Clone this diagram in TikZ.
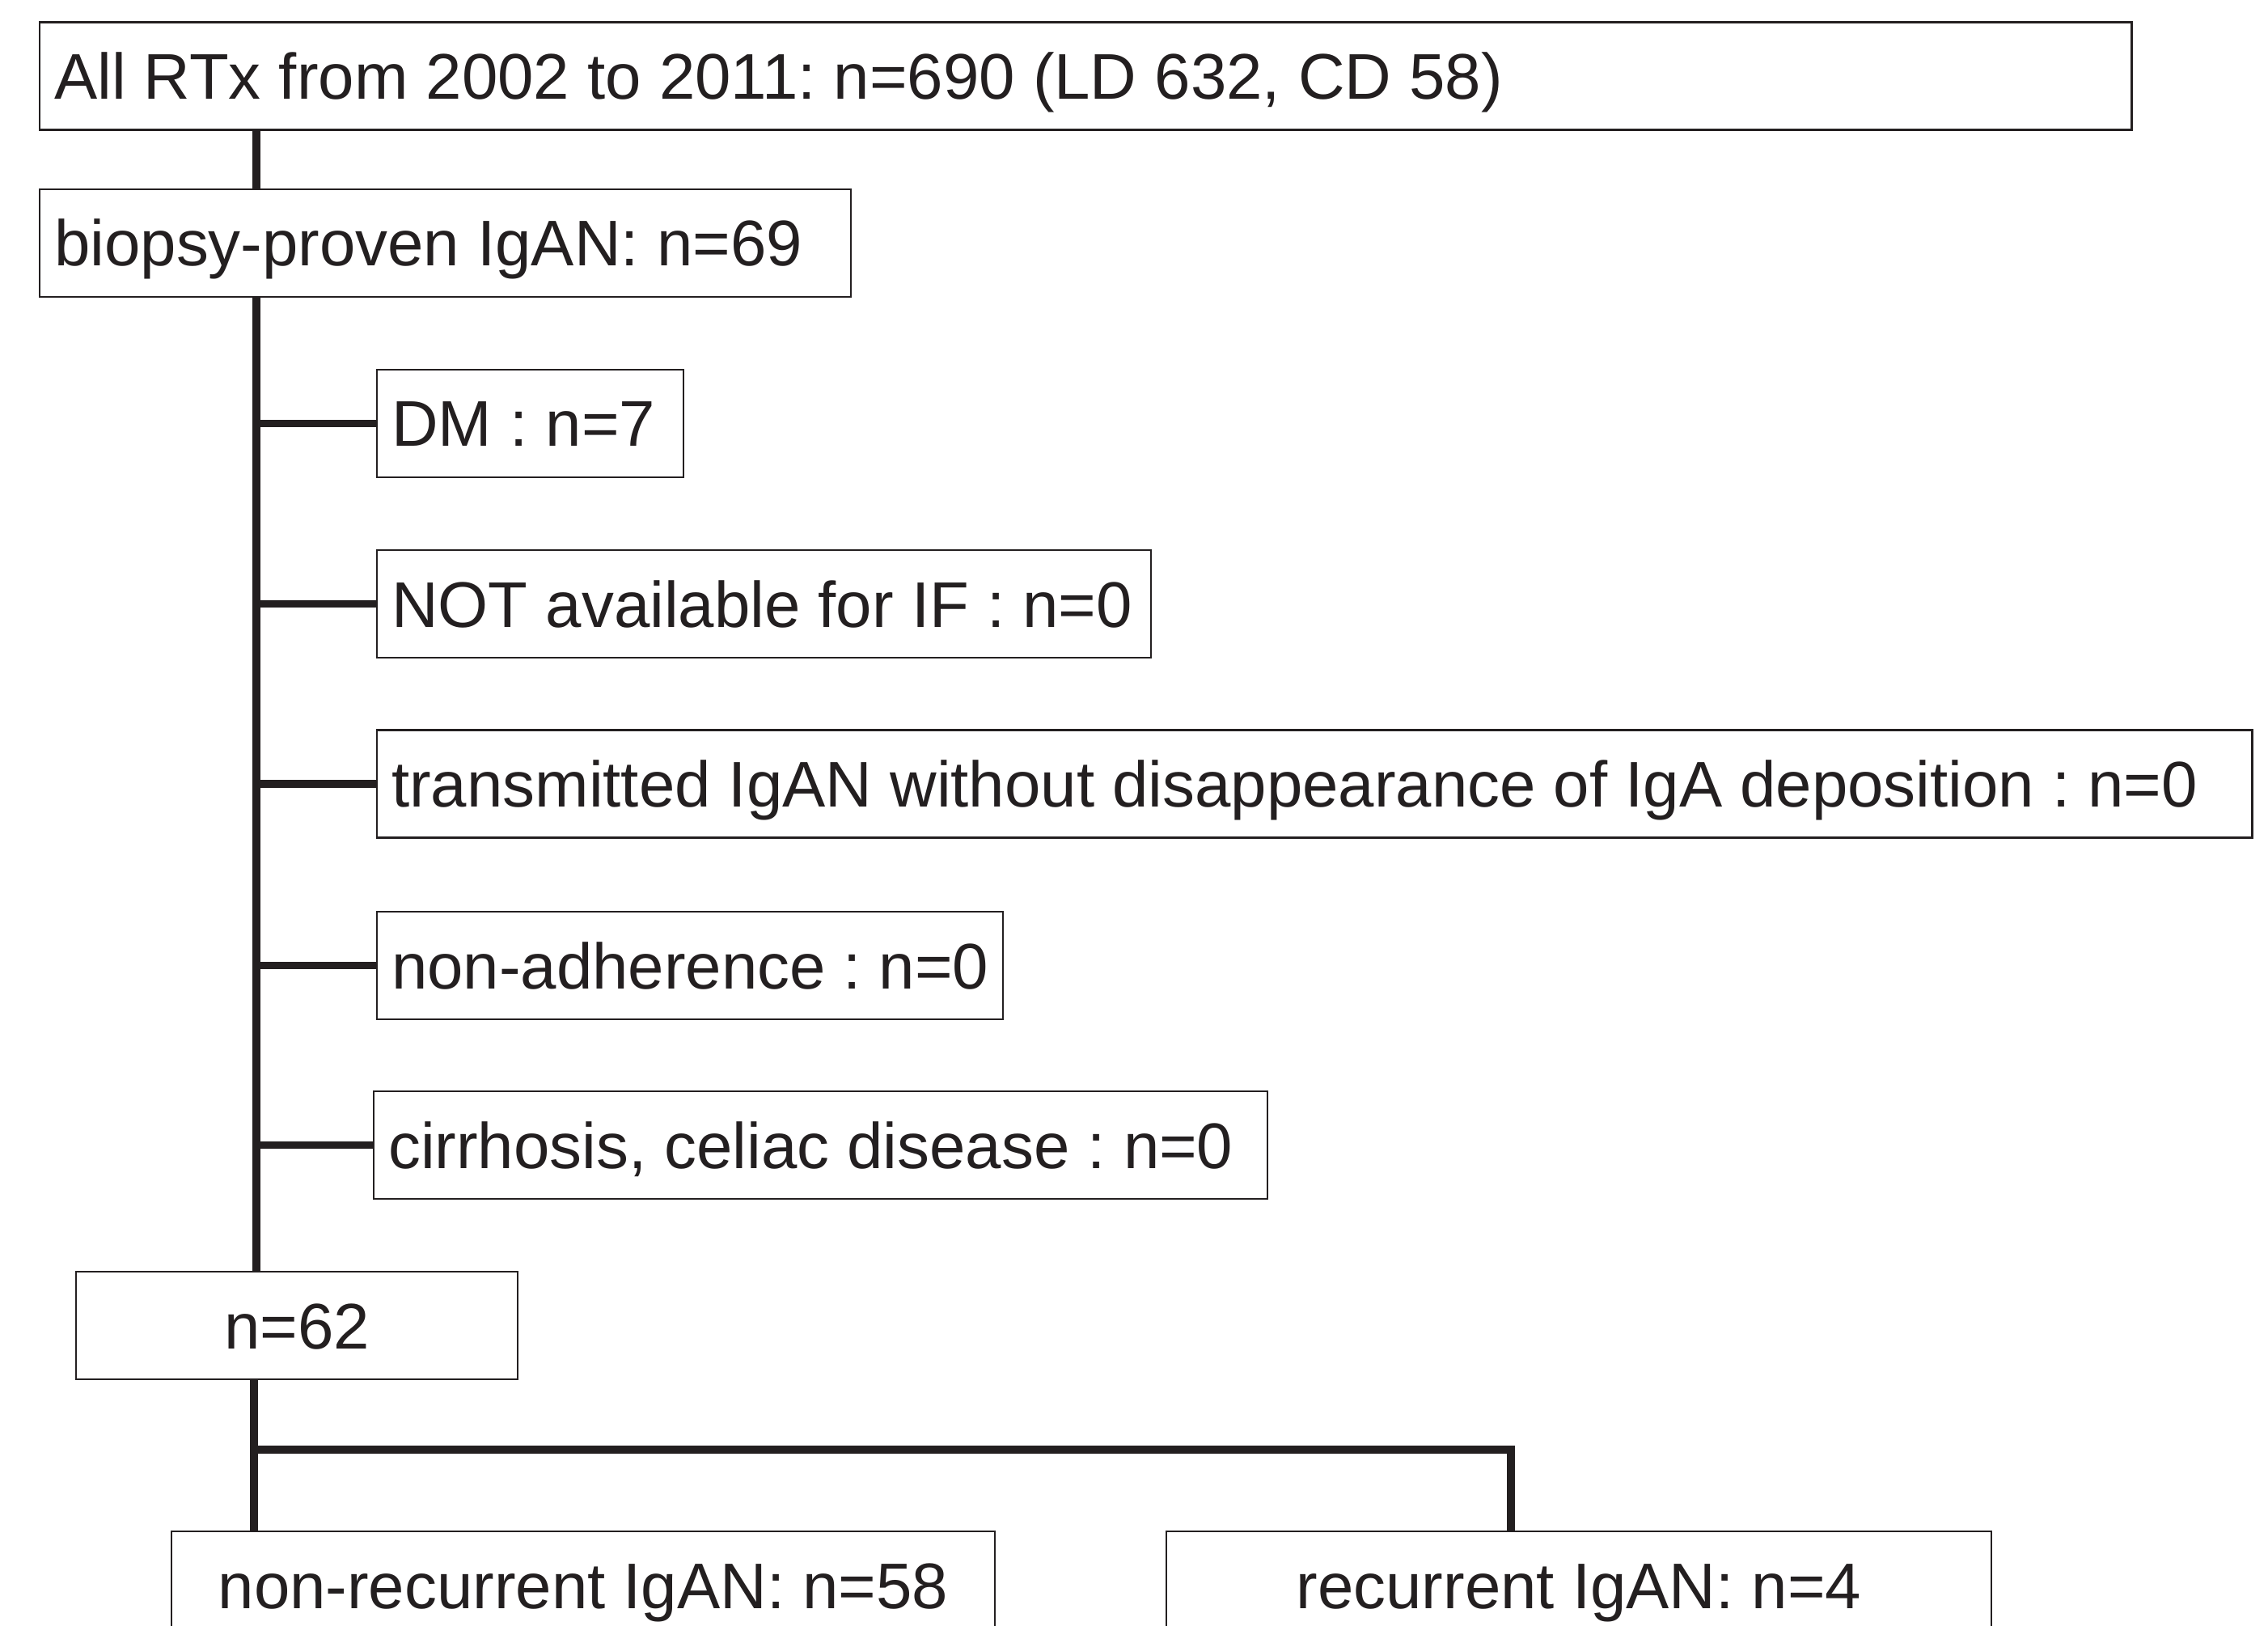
\documentclass[tikz,border=0pt]{standalone}
\usepackage{fontspec}
\setmainfont{Liberation Sans}
\usepackage{tikz}
\usetikzlibrary{positioning,calc}
\usepackage{xcolor}
\definecolor{fink}{HTML}{231F20}
\frenchspacing
\tikzset{
  flowbox/.style = {draw=fink, line width=0.7pt, rectangle, text=fink,
                    inner xsep=0.18cm, inner ysep=0pt, minimum height=1.33cm,
                    text height=0.57cm, text depth=0pt,
                    font=\fontsize{22.7}{27}\selectfont},
  exclbox/.style = {flowbox, anchor=west, align=flush left},
  link/.style    = {draw=fink, line width=2.7pt},
}

\begin{document}
\begin{tikzpicture}
\clip (0,0) rectangle (28.04,-20.10);
% cohort
\node[exclbox, text width=25.50cm] (all) at (0.48,-0.94)
  {All RTx from 2002 to 2011: n=690 (LD 632, CD 58)};
\node[exclbox, text width=9.67cm] (biopsy) at (0.48,-3.005)
  {biopsy-proven IgAN: n=69};
% exclusions
\node[exclbox, text width=3.43cm] (dm) at (4.65,-5.235) {DM : n=7};
\node[exclbox, text width=9.21cm] (notif) at (4.65,-7.465)
  {NOT available for IF : n=0};
\node[exclbox, text width=22.82cm] (trans) at (4.65,-9.69)
  {transmitted IgAN without disappearance of IgA deposition : n=0};
\node[exclbox, text width=7.38cm] (nonadh) at (4.65,-11.935)
  {non-adherence : n=0};
\node[exclbox, text width=10.69cm] (cirr) at (4.61,-14.155)
  {cirrhosis, celiac disease : n=0};
% remaining + outcome
\node[flowbox, minimum width=5.46cm] (remain) at (3.67,-16.385) {n=62};
\node[flowbox, minimum width=10.18cm] (nonrec) at (7.21,-19.595)
  {non-recurrent IgAN: n=58};
\node[flowbox, minimum width=10.20cm] (rec) at (19.52,-19.595)
  {recurrent IgAN: n=4};

% spine
\coordinate (spine) at (3.17,0);
\draw[link] (all.south -| spine) -- (biopsy.north -| spine);
\draw[link] (biopsy.south -| spine) -- (remain.north -| spine);
\foreach \ex in {dm,notif,trans,nonadh,cirr}
  \draw[link] (\ex.west -| spine) -- (\ex.west);
% split
\coordinate (fork) at (3.14,-17.92);
\coordinate (drop) at (18.68,-17.92);
\draw[link] (remain.south -| fork) -- (nonrec.north -| fork);
\draw[link] (fork) -- (drop) -- (rec.north -| drop);
\end{tikzpicture}
\end{document}
